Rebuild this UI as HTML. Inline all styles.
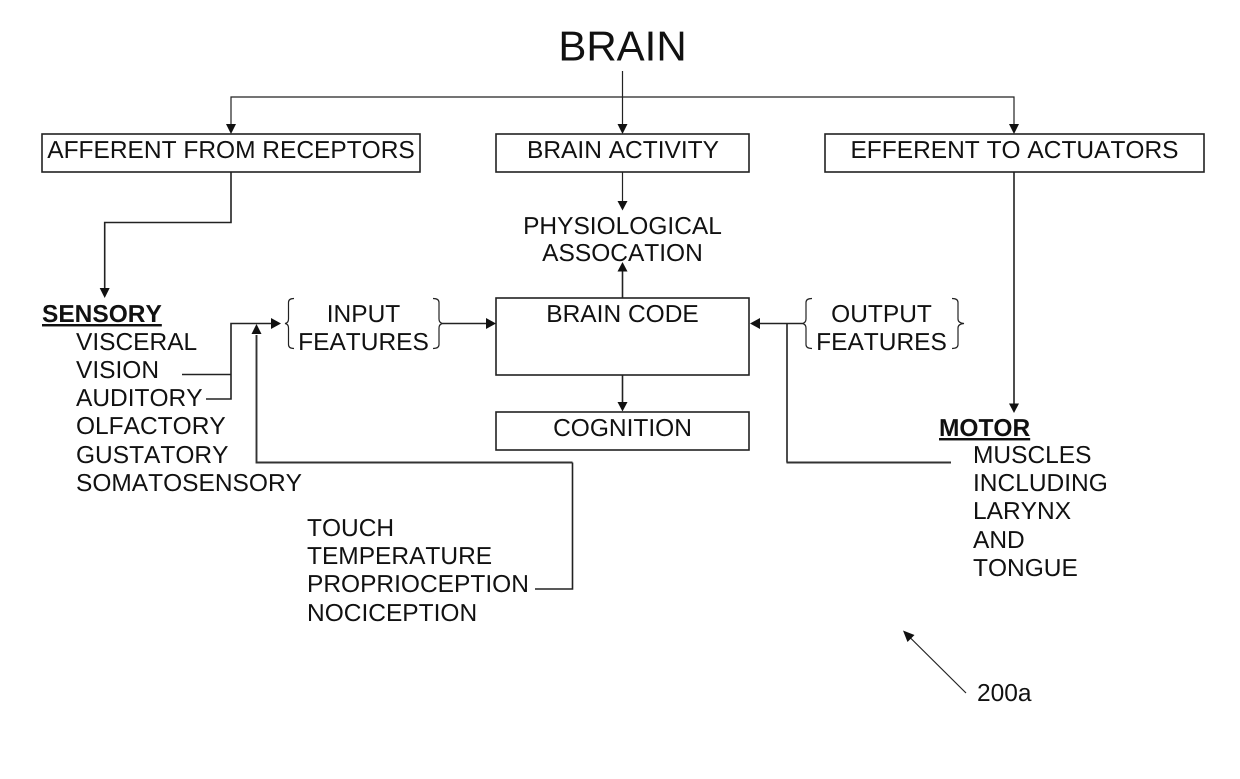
<!DOCTYPE html>
<html><head><meta charset="utf-8"><style>
html,body{margin:0;padding:0;background:#fff}
svg{display:block}
text{font-family:"Liberation Sans",Arial,sans-serif;font-size:24.5px;fill:#111;font-kerning:none;text-rendering:geometricPrecision}
.l{fill:none;stroke:#222;stroke-width:1.6}
.t{fill:none;stroke:#222;stroke-width:1.2}
.h{fill:none;stroke:#333;stroke-width:1.9}
</style></head><body>
<svg width="1240" height="779" viewBox="0 0 1240 779" xmlns="http://www.w3.org/2000/svg">
<text x="622.5" y="60.500" text-anchor="middle" style="font-size:42px">BRAIN</text>
<path class="t" d="M622.5 71V124M231 124V97H1014V124"/>
<path d="M226 124h10l-5 10zM617.500 124h10l-5 10zM1009 124h10l-5 10z" fill="#111"/>
<rect class="l" x="42" y="134" width="378" height="38"/>
<rect class="l" x="496" y="134" width="253" height="38"/>
<rect class="l" x="825" y="134" width="379" height="38"/>
<text x="231" y="158" text-anchor="middle">AFFERENT FROM RECEPTORS</text>
<text x="623" y="158" text-anchor="middle">BRAIN ACTIVITY</text>
<text x="1014.500" y="158" text-anchor="middle">EFFERENT TO ACTUATORS</text>
<path class="t" d="M622.500 172V201"/>
<path d="M617.500 201h10l-5 9.500z" fill="#111"/>
<text x="622.500" y="234" text-anchor="middle">PHYSIOLOGICAL</text>
<text x="622.500" y="261" text-anchor="middle">ASSOCATION</text>
<path class="l" d="M622.500 298V270"/>
<path d="M617.500 271.500h10l-5-9.500z" fill="#111"/>
<rect class="l" x="496" y="298" width="253" height="77"/>
<text x="622.500" y="322" text-anchor="middle">BRAIN CODE</text>
<path class="l" d="M622.500 375V403"/>
<path d="M617.500 402h10l-5 9.500z" fill="#111"/>
<rect class="l" x="496" y="412" width="253" height="38"/>
<text x="622.500" y="436" text-anchor="middle">COGNITION</text>
<path class="l" d="M231 172V222.500H104.700V289"/>
<path d="M99.700 288h10l-5 10z" fill="#111"/>
<path class="l" d="M1014 172V404"/>
<path d="M1009 403.500h10l-5 9.500z" fill="#111"/>
<text x="42" y="322" style="font-weight:bold;text-decoration:underline">SENSORY</text>
<text x="76" y="350">VISCERAL</text>
<text x="76" y="378">VISION</text>
<text x="76" y="406">AUDITORY</text>
<text x="76" y="434">OLFACTORY</text>
<text x="76" y="463">GUSTATORY</text>
<text x="76" y="491">SOMATOSENSORY</text>
<path class="l" d="M182 374.500H231M206 399H231V323.500H272"/>
<path d="M271 318v11l10-5.500z" fill="#111"/>
<path class="h" d="M572.500 462.500H256.500V335"/>
<path class="l" d="M535 589H572.500V462.500"/>
<path d="M251.500 334h10l-5-10z" fill="#111"/>
<path class="t" d="M294 298.500q-5.500 0-5.500 4V319q0 4-3.500 4.500q3.500.5 3.500 4.500v16.500q0 4 5.500 4"/>
<path class="t" d="M433 298.500q6 0 6 4V319q0 4 4 4.500q-4 .5-4 4.500v16.500q0 4-6 4"/>
<text x="363.500" y="322" text-anchor="middle">INPUT</text>
<text x="363.500" y="350" text-anchor="middle">FEATURES</text>
<path class="l" d="M443 323.500H487"/>
<path d="M486 318v11l10-5.500z" fill="#111"/>
<path class="t" d="M812 298.500q-6 0-6 4V319q0 4-4 4.500q4 .5 4 4.500v16.500q0 4 6 4"/>
<path class="t" d="M952 298.500q6 0 6 4V319q0 4 6 4.500q-6 .5-6 4.500v16.500q0 4-6 4"/>
<text x="881.500" y="322" text-anchor="middle">OUTPUT</text>
<text x="881.500" y="350" text-anchor="middle">FEATURES</text>
<path class="l" d="M802 323.500H759M787 323.500V462.500"/>
<path class="h" d="M786.500 462.500H951"/>
<path d="M760 318v11l-10-5.500z" fill="#111"/>
<text x="939" y="436" style="font-weight:bold;text-decoration:underline">MOTOR</text>
<text x="973" y="463">MUSCLES</text>
<text x="973" y="491">INCLUDING</text>
<text x="973" y="519">LARYNX</text>
<text x="973" y="548">AND</text>
<text x="973" y="576">TONGUE</text>
<text x="307" y="536">TOUCH</text>
<text x="307" y="564">TEMPERATURE</text>
<text x="307" y="592">PROPRIOCEPTION</text>
<text x="307" y="621">NOCICEPTION</text>
<path class="t" d="M966 693L909 636.500"/>
<path d="M903 630.500l11.500 4.500-7 7z" fill="#111"/>
<text x="977" y="701">200a</text>
</svg>
</body></html>
